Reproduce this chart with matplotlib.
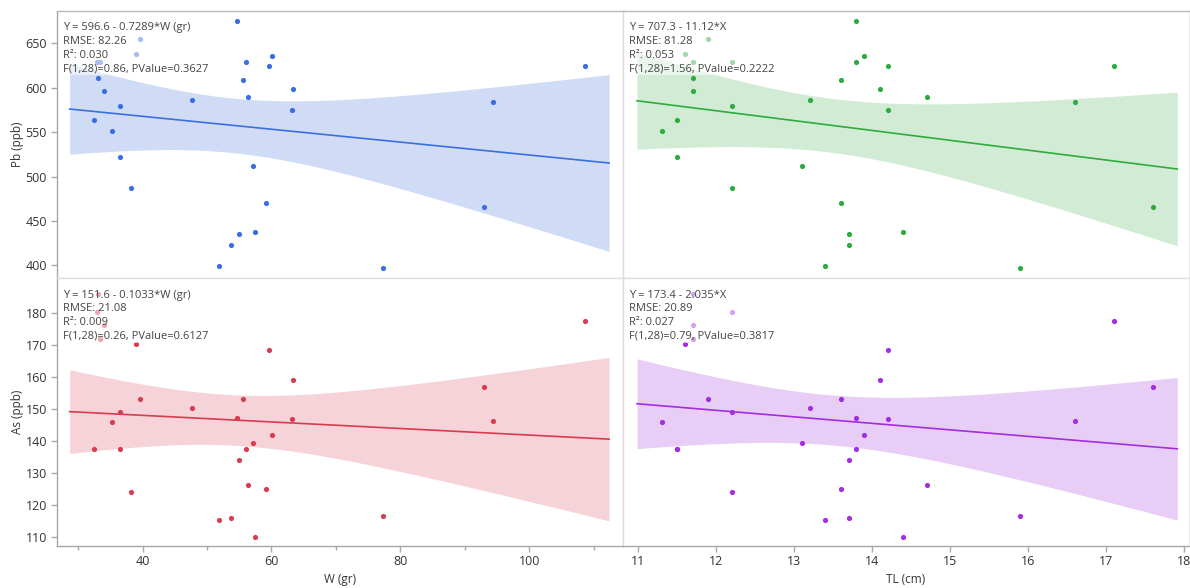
import numpy as np
import matplotlib
matplotlib.use("Agg")
import matplotlib.pyplot as plt
from matplotlib.ticker import FixedLocator

# ---- data (30 fish) ----
W = [54.7, 39.6, 39.0, 32.9, 33.4, 33.1, 34.0, 36.5, 32.5, 35.3,
     36.5, 38.2, 47.7, 56.0, 60.1, 59.6, 55.6, 63.3, 56.3, 63.2,
     57.1, 59.2, 57.5, 55.0, 53.7, 51.9, 108.6, 94.4, 93.0, 77.3]
TL = [13.8, 11.9, 11.6, 12.2, 11.7, 11.7, 11.7, 12.2, 11.5, 11.3,
      11.5, 12.2, 13.2, 13.8, 13.9, 14.2, 13.6, 14.1, 14.7, 14.2,
      13.1, 13.6, 14.4, 13.7, 13.7, 13.4, 17.1, 16.6, 17.6, 15.9]
Pb = [675.1, 654.5, 637.6, 628.6, 628.6, 611.3, 596.7, 579.9, 563.4, 551.8,
      521.9, 486.6, 586.3, 628.6, 636.1, 624.5, 609.1, 598.6, 589.6, 575.0,
      511.7, 470.5, 437.1, 435.6, 423.3, 399.3, 624.5, 584.4, 466.0, 397.1]
As = [147.0, 152.9, 170.3, 180.2, 171.7, 185.7, 176.1, 149.1, 137.3, 145.8,
      137.4, 123.9, 150.1, 137.3, 141.7, 168.2, 152.9, 158.9, 126.3, 146.7,
      139.4, 124.9, 110.0, 134.0, 115.8, 115.1, 177.3, 146.1, 156.7, 116.4]

Pb_ticks = [400, 450, 500, 550, 600, 650]
As_ticks = [110, 120, 130, 140, 150, 160, 170, 180]
W_ticks = [40, 60, 80, 100]
W_minor = [30, 50, 70, 90, 110]
TL_ticks = [11, 12, 13, 14, 15, 16, 17, 18]

stats_text = {
    ("Pb", "W"): ["Y = 596.6 - 0.7289*W (gr)", "RMSE: 82.26", "R\u00b2: 0.030",
                  "F(1,28)=0.86, PValue=0.3627"],
    ("Pb", "TL"): ["Y = 707.3 - 11.12*X", "RMSE: 81.28", "R\u00b2: 0.053",
                   "F(1,28)=1.56, PValue=0.2222"],
    ("As", "W"): ["Y = 151.6 - 0.1033*W (gr)", "RMSE: 21.08", "R\u00b2: 0.009",
                  "F(1,28)=0.26, PValue=0.6127"],
    ("As", "TL"): ["Y = 173.4 - 2.035*X", "RMSE: 20.89", "R\u00b2: 0.027",
                   "F(1,28)=0.79, PValue=0.3817"],
}

x_labels = {"W": "W (gr)", "TL": "TL (cm)"}
y_labels = {"Pb": "Pb (ppb)", "As": "As (ppb)"}

colors = {
    ("Pb", "W"): ("#3b6ee0", "#d0dcf5"),
    ("Pb", "TL"): ("#2eab3e", "#d2ebd4"),
    ("As", "W"): ("#d83c50", "#f5d3d8"),
    ("As", "TL"): ("#a22ee0", "#e8cdf6"),
}

data = {"W": np.array(W), "TL": np.array(TL), "Pb": np.array(Pb), "As": np.array(As)}
yticks = {"Pb": Pb_ticks, "As": As_ticks}

plt.rcParams['font.family'] = ['Open Sans', 'DejaVu Sans']

fig = plt.figure(figsize=(11.9, 5.88), dpi=100)
gs = fig.add_gridspec(2, 2, left=0.0476, right=0.9988, top=0.9813, bottom=0.0720,
                      wspace=0, hspace=0)

xlims = {"W": (26.67, 114.5), "TL": (10.80, 18.06)}
ylims = {"Pb": (385.4, 686.4), "As": (107.2, 190.75)}

outer = "#a8a8a8"
inner = "#dedede"
T = 2.0484  # t(0.975, 28)

for r, yv in enumerate(["Pb", "As"]):
    for c, xv in enumerate(["W", "TL"]):
        ax = fig.add_subplot(gs[r, c])
        x = data[xv]
        y = data[yv]
        pc, bc = colors[(yv, xv)]
        n = len(x)
        b1, b0 = np.polyfit(x, y, 1)
        resid = y - (b0 + b1 * x)
        s = np.sqrt(np.sum(resid ** 2) / (n - 2))
        xm = x.mean()
        sxx = np.sum((x - xm) ** 2)
        pad = 0.05 * (x.max() - x.min())
        xs = np.linspace(x.min() - pad, x.max() + pad, 200)
        yhat = b0 + b1 * xs
        hw = T * s * np.sqrt(1.0 / n + (xs - xm) ** 2 / sxx)
        ax.fill_between(xs, yhat - hw, yhat + hw, color=bc, lw=0, zorder=1)
        ax.plot(xs, yhat, color=pc, lw=1.2, zorder=2)
        ax.scatter(x, y, s=14, color=pc, lw=0, zorder=3)

        ax.set_xlim(*xlims[xv])
        ax.set_ylim(*ylims[yv])

        for side, sp in ax.spines.items():
            sp.set_color(inner)
            sp.set_linewidth(1.0)
        if c == 0:
            ax.spines['left'].set_color(outer)
        if r == 1:
            ax.spines['bottom'].set_color(outer)
        if r == 0:
            ax.spines['top'].set_color("#b8b8b8")
        if c == 1:
            ax.spines['right'].set_color("#eeeeee")

        if xv == "W":
            ax.xaxis.set_major_locator(FixedLocator(W_ticks))
            ax.xaxis.set_minor_locator(FixedLocator(W_minor))
        else:
            ax.xaxis.set_major_locator(FixedLocator(TL_ticks))
        ax.yaxis.set_major_locator(FixedLocator(yticks[yv]))

        ax.tick_params(which='both', direction='out', color=outer,
                       labelsize=9, labelcolor='#333333', width=1)
        ax.tick_params(which='major', length=4, pad=3)
        ax.tick_params(which='minor', length=3)
        if r == 0:
            ax.tick_params(axis='x', which='both', bottom=False, labelbottom=False)
        else:
            ax.set_xlabel(x_labels[xv], fontsize=8.5, color='#333333', labelpad=3)
        if c == 1:
            ax.tick_params(axis='y', which='both', left=False, labelleft=False)
        else:
            ax.set_ylabel(y_labels[yv], fontsize=8.5, color='#333333', labelpad=1)

        ax.text(0.011, 0.957, "\n".join(stats_text[(yv, xv)]), transform=ax.transAxes,
                ha='left', va='top', fontsize=8, color='#444444', linespacing=1.33,
                zorder=5,
                bbox=dict(facecolor='white', alpha=0.55, edgecolor='none', pad=0.6))

fig.savefig("out.png", dpi=100)
